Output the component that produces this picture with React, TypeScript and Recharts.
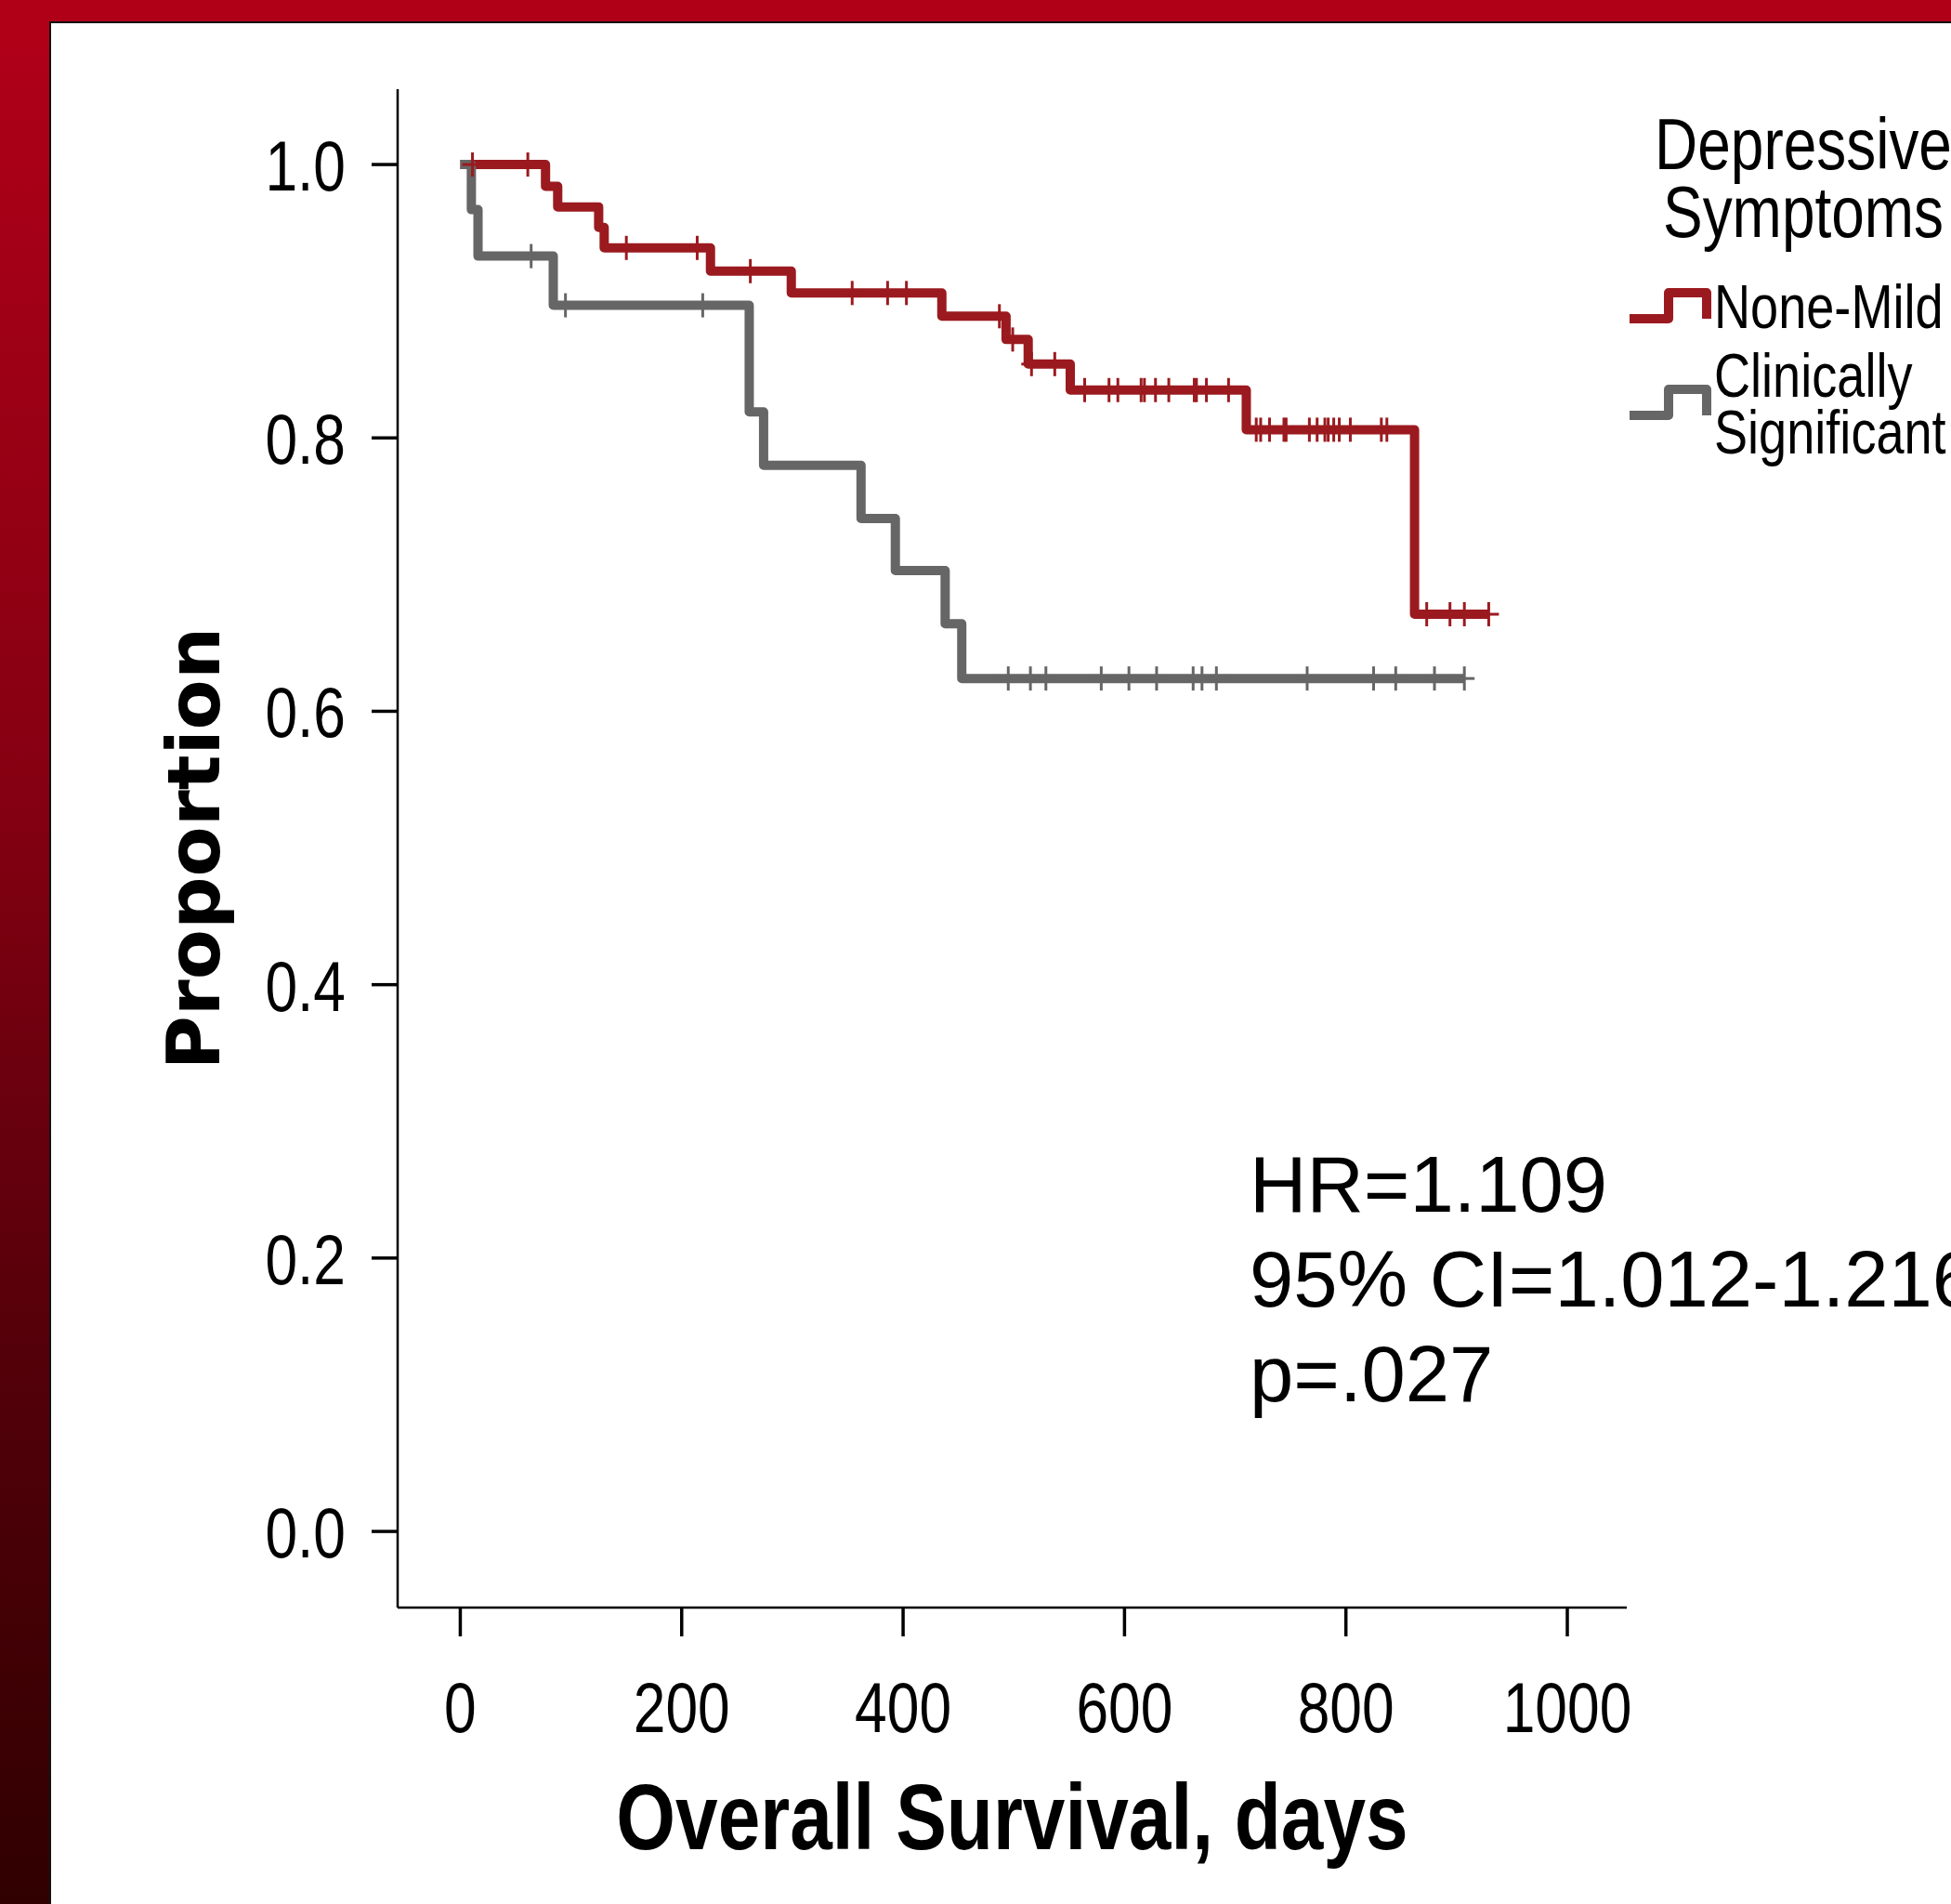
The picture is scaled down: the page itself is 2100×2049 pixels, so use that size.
import React from 'react';
import { ComposedChart, Line, Scatter, XAxis, YAxis, Legend, Customized } from 'recharts';

// ---------------- data ----------------
const xTicks = [0, 200, 400, 600, 800, 1000];
const yTicks = [0, 0.2, 0.4, 0.6, 0.8, 1.0];

const noneMildEventDays = [0, 77, 88, 125, 130, 226, 299, 435, 493, 513, 551, 710, 862];
const noneMildEventSurv = [1.0, 0.984, 0.969, 0.954, 0.939, 0.922, 0.906, 0.889, 0.872, 0.854, 0.835, 0.806, 0.671];
const noneMildCensorDays = [
  11, 61, 150, 214, 262, 354, 386, 403, 487, 499, 516, 537,
  564, 586, 594, 615, 618, 628, 640, 663, 665, 674, 694,
  719, 723, 731, 744, 746, 767, 774, 781, 784, 789, 794, 804, 832, 837,
  873, 894, 907, 929,
];

const clinSigEventDays = [0, 10, 16, 84, 261, 274, 362, 393, 438, 453];
const clinSigEventSurv = [1.0, 0.967, 0.933, 0.897, 0.819, 0.78, 0.741, 0.703, 0.664, 0.624];
const clinSigCensorDays = [64, 95, 219, 495, 515, 529, 579, 604, 629, 662, 670, 683, 765, 825, 845, 880, 907];

const legendTitle = ['Depressive', 'Symptoms'];
const statLines = ['HR=1.109', '95% CI=1.012-1.216', 'p=.027'];

// ---------------- helpers ----------------
const survivalAt = (days: number[], surv: number[], t: number) => {
  let v = surv[0];
  for (let i = 0; i < days.length; i++) if (days[i] <= t) v = surv[i];
  return v;
};
const buildLine = (days: number[], surv: number[], censors: number[]) => {
  const pts = days.map((t, i) => ({ t, s: surv[i] }));
  const last = Math.max(...censors);
  pts.push({ t: last, s: survivalAt(days, surv, last) });
  return pts;
};
const buildCensors = (days: number[], surv: number[], censors: number[]) =>
  censors.map((t) => ({ t, s: survivalAt(days, surv, t) }));

const RED = '#9b1a1f';
const GRAY = '#666666';

const series = [
  { name: 'None-Mild', color: RED, line: buildLine(noneMildEventDays, noneMildEventSurv, noneMildCensorDays), cens: buildCensors(noneMildEventDays, noneMildEventSurv, noneMildCensorDays) },
  { name: 'Clinically Significant', color: GRAY, line: buildLine(clinSigEventDays, clinSigEventSurv, clinSigCensorDays), cens: buildCensors(clinSigEventDays, clinSigEventSurv, clinSigCensorDays) },
];

// ---------------- layout ----------------
const W = 2100;
const H = 2049;
const MARGIN = { top: 96, right: 349, left: 0, bottom: 0 };
const Y_AXIS_W = 428;
const X_AXIS_H = 319;
const SANS = "'Liberation Sans', Arial, sans-serif";
const NARROW_SCALE = 0.82;

// condensed text (narrow face emulated by horizontal scaling)
const NText = ({ x, y, anchor = 'start', size, bold = false, children }: any) => (
  <text
    transform={`translate(${x},${y}) scale(${NARROW_SCALE},1)`}
    x={0}
    y={0}
    textAnchor={anchor}
    fontFamily={SANS}
    fontWeight={bold ? 'bold' : 'normal'}
    fontSize={size}
    fill="#000"
  >
    {children}
  </text>
);

const XTick = (p: any) => (
  <NText x={p.x} y={p.y + 54} anchor="middle" size={76}>
    {String(p.payload.value)}
  </NText>
);
const YTick = (p: any) => (
  <NText x={p.x} y={p.y + 28} anchor="end" size={76}>
    {Number(p.payload.value).toFixed(1)}
  </NText>
);

const censorShape = (color: string) => (props: any) => {
  const { cx, cy } = props;
  if (cx == null || cy == null) return <g />;
  return (
    <g>
      <line x1={cx} x2={cx} y1={cy - 13} y2={cy + 13} stroke={color} strokeWidth={3} />
      <line x1={cx - 11} x2={cx + 11} y1={cy} y2={cy} stroke={color} strokeWidth={3} />
    </g>
  );
};

const renderLegend = () => (
  <svg width={400} height={420} style={{ display: 'block', overflow: 'visible' }}>
    {legendTitle.map((t, i) => (
      <NText key={t} x={241} y={82 + i * 73} anchor="middle" size={78}>
        {t}
      </NText>
    ))}
    {series.map((s, i) => {
      const lowY = 243 + 104 * i;
      const highY = lowY - 28;
      const words = s.name.split(' ');
      const start = lowY + 10 - (words.length - 1) * 30.5;
      return (
        <g key={s.name}>
          <polyline
            points={`54,${lowY} 96,${lowY} 96,${highY} 137,${highY} 137,${lowY}`}
            fill="none"
            stroke={s.color}
            strokeWidth={10}
            strokeLinejoin="round"
          />
          {words.map((w, j) => (
            <NText key={w} x={145} y={start + j * 61} size={66}>
              {w}
            </NText>
          ))}
        </g>
      );
    })}
  </svg>
);

const StatsText = () => (
  <g>
    {statLines.map((t, i) => (
      <text key={t} x={1345} y={1304 + i * 102} fontFamily={SANS} fontSize={85} fill="#000">
        {t}
      </text>
    ))}
  </g>
);

export default function App() {
  return (
    <div style={{ position: 'absolute', left: 0, top: 0, width: W, height: H, overflow: 'hidden', background: '#fff' }}>
      <div style={{ position: 'absolute', left: 0, top: 0 }}>
        <ComposedChart width={W} height={H} margin={MARGIN}>
          <XAxis
            type="number"
            dataKey="t"
            domain={[-56.6, 1053.7]}
            allowDataOverflow
            ticks={xTicks}
            height={X_AXIS_H}
            tickSize={31}
            tickMargin={49}
            axisLine={{ stroke: '#000', strokeWidth: 2.5 }}
            tickLine={{ stroke: '#000', strokeWidth: 3.5 }}
            tick={<XTick />}
            label={{
              content: (p: any) => {
                const vb = p.viewBox || { x: 428, y: 1730, width: 1323, height: 319 };
                return (
                  <NText x={vb.x + vb.width / 2} y={vb.y + vb.height - 59} anchor="middle" size={100} bold>
                    Overall Survival, days
                  </NText>
                );
              },
            }}
          />
          <YAxis
            type="number"
            domain={[-0.0557, 1.0551]}
            allowDataOverflow
            ticks={yTicks}
            width={Y_AXIS_W}
            tickSize={28}
            tickMargin={28}
            axisLine={{ stroke: '#000', strokeWidth: 2.5 }}
            tickLine={{ stroke: '#000', strokeWidth: 3.5 }}
            tick={<YTick />}
            label={{
              content: (p: any) => {
                const vb = p.viewBox || { x: 0, y: 96, width: 428, height: 1634 };
                const cy = vb.y + vb.height / 2;
                return (
                  <text x={236} y={cy} transform={`rotate(-90, 236, ${cy})`} textAnchor="middle" fontFamily="'DejaVu Sans', sans-serif" fontWeight="bold" fontSize={79} fill="#000">
                    Proportion
                  </text>
                );
              },
            }}
          />
          {series.map((s) => (
            <Line
              key={s.name}
              data={s.line}
              dataKey="s"
              name={s.name}
              type="stepAfter"
              stroke={s.color}
              strokeWidth={10}
              strokeLinejoin="round"
              dot={false}
              activeDot={false}
              isAnimationActive={false}
            />
          ))}
          {series.map((s) => (
            <Scatter
              key={s.name + '-c'}
              data={s.cens}
              dataKey="s"
              legendType="none"
              shape={censorShape(s.color)}
              isAnimationActive={false}
            />
          ))}
          <Customized component={StatsText} />
          <Legend
            layout="vertical"
            align="center"
            verticalAlign="middle"
            content={renderLegend}
            wrapperStyle={{ position: 'absolute', left: 1700, top: 100, right: 'auto', bottom: 'auto', width: 400, height: 420 }}
          />
        </ComposedChart>
      </div>
      <div style={{ position: 'absolute', left: 0, top: 0, width: W, height: 23, background: '#b00018', borderBottom: '2px solid #111' }} />
      <div
        style={{
          position: 'absolute',
          left: 0,
          top: 23,
          width: 53,
          height: H - 23,
          background: 'linear-gradient(to bottom, #b00018 0%, #860012 40%, #55000a 70%, #300000 100%)',
          borderRight: '2px solid #111',
        }}
      />
    </div>
  );
}
